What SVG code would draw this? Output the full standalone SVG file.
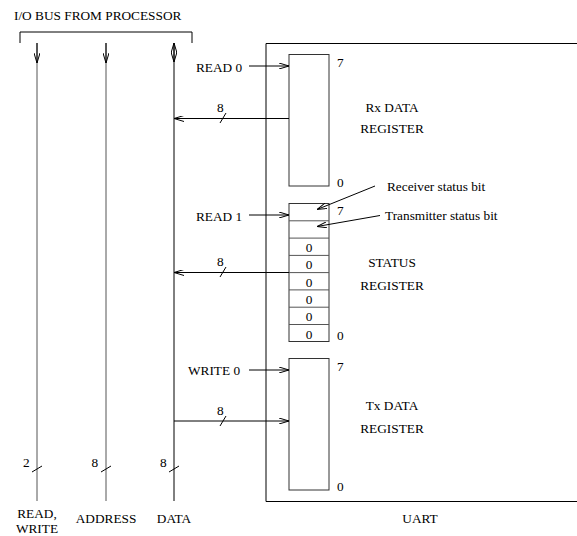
<svg xmlns="http://www.w3.org/2000/svg" width="577" height="536" viewBox="0 0 577 536">
<defs>
<style>
text{font-family:"Liberation Serif","Times New Roman",serif;font-size:13.3px;fill:#000}
.ln{stroke:#000;stroke-width:1;fill:none}
.g{stroke:#555;stroke-width:1;fill:none}
.box{stroke:#333;stroke-width:1;fill:#fff}
.m{text-anchor:middle}
</style>
<marker id="ah" viewBox="0 0 10 6" refX="10" refY="3" markerWidth="10" markerHeight="6" markerUnits="userSpaceOnUse" orient="auto-start-reverse">
<polyline points="0,0 10,3 0,6" fill="none" stroke="#000" stroke-width="1"/>
</marker>
</defs>
<rect width="577" height="536" fill="#fff"/>

<g id="bus">
<text x="14" y="20">I/O BUS FROM PROCESSOR</text>
<polyline class="ln" points="20,43 20,32 192,32 192,43"/>
</g>

<g id="uart">
<polyline class="ln" points="580,43.5 266,43.5 266,501.5 580,501.5"/>
<text class="m" x="420" y="523">UART</text>
</g>

<g id="rx-register">
<rect class="box" x="289" y="54.5" width="40" height="131.5"/>
<text x="337" y="67">7</text>
<text x="337" y="187">0</text>
<text class="m" x="392" y="112">Rx DATA</text>
<text class="m" x="392" y="133">REGISTER</text>
</g>

<g id="status-register">
<rect class="box" x="289" y="203.5" width="40" height="138"/>
<path class="g" d="M289,220.8H329M289,238.1H329M289,255.4H329M289,272.6H329M289,289.9H329M289,307.2H329M289,324.5H329"/>
<text class="m" x="309" y="252">0</text>
<text class="m" x="309" y="269">0</text>
<text class="m" x="309" y="286.5">0</text>
<text class="m" x="309" y="304">0</text>
<text class="m" x="309" y="321">0</text>
<text class="m" x="309" y="338.5">0</text>
<text x="337" y="215">7</text>
<text x="337" y="340">0</text>
<text class="m" x="392" y="267">STATUS</text>
<text class="m" x="392" y="290">REGISTER</text>
<text x="387" y="191">Receiver status bit</text>
<text x="385" y="220">Transmitter status bit</text>
</g>

<g id="tx-register">
<rect class="box" x="289" y="358.5" width="40" height="131.5"/>
<text x="337" y="371">7</text>
<text x="337" y="491">0</text>
<text class="m" x="392" y="410">Tx DATA</text>
<text class="m" x="392" y="433">REGISTER</text>
</g>

<g id="labels">
<text x="196" y="72">READ 0</text>
<text x="196" y="221">READ 1</text>
<text x="188" y="375">WRITE 0</text>
<text x="217" y="112">8</text>
<text x="217" y="266">8</text>
<text x="217" y="415">8</text>
<text x="23" y="467">2</text>
<text x="91.5" y="467">8</text>
<text x="160" y="467">8</text>
<text class="m" x="37" y="518">READ,</text>
<text class="m" x="37" y="532.5">WRITE</text>
<text class="m" x="106" y="523">ADDRESS</text>
<text class="m" x="174" y="523">DATA</text>
</g>

<g id="connectors">
<line class="g" x1="37" y1="43" x2="37" y2="501"/>
<line class="ln" x1="37" y1="43" x2="37" y2="63" marker-end="url(#ah)"/>
<line class="g" x1="106" y1="43" x2="106" y2="501"/>
<line class="ln" x1="106" y1="43" x2="106" y2="63" marker-end="url(#ah)"/>
<line class="ln" x1="174" y1="43" x2="174" y2="501"/>
<line class="ln" x1="174" y1="43" x2="174" y2="62" marker-start="url(#ah)" marker-end="url(#ah)"/>
<line class="ln" x1="249" y1="66" x2="289" y2="66" marker-end="url(#ah)"/>
<line class="ln" x1="249" y1="215" x2="289" y2="215" marker-end="url(#ah)"/>
<line class="ln" x1="249" y1="370" x2="289" y2="370" marker-end="url(#ah)"/>
<line class="ln" x1="289" y1="118.5" x2="174" y2="118.5" marker-end="url(#ah)"/>
<line class="ln" x1="289" y1="272.5" x2="174" y2="272.5" marker-end="url(#ah)"/>
<line class="ln" x1="174" y1="421" x2="289" y2="421" marker-end="url(#ah)"/>
<line class="ln" x1="375" y1="186" x2="317" y2="209.5" marker-end="url(#ah)"/>
<line class="ln" x1="380" y1="215.5" x2="317" y2="226.5" marker-end="url(#ah)"/>
<path class="ln" d="M220,123L226,113M220,277L226,267M220,426L226,416M32,472L42,466M101,472L111,466M169,472L179,466"/>
</g>
</svg>
